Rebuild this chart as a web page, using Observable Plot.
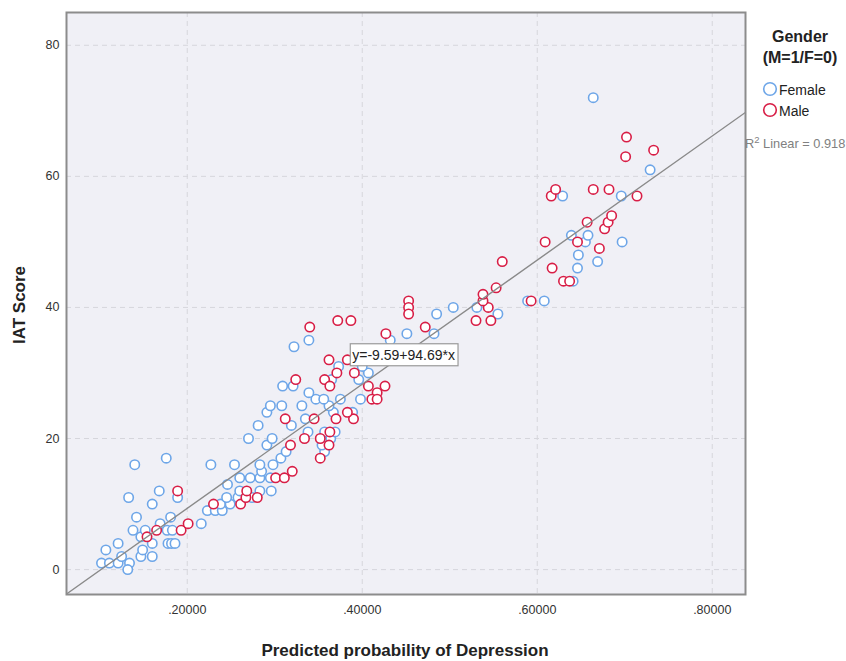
<!DOCTYPE html>
<html><head><meta charset="utf-8">
<script src="https://cdn.jsdelivr.net/npm/d3@7"></script>
<script src="https://cdn.jsdelivr.net/npm/@observablehq/plot@0.6"></script>
<style>
body{margin:0;background:#fff;}
#chart{width:846px;height:661px;overflow:hidden;}
svg{font-family:Arial,"Liberation Sans",sans-serif;}
</style></head><body><div id="chart"></div>
<script>
// Female (0) — predicted probability, IAT score
const femaleX = [0.102,0.111,0.121,0.134,0.132,0.107,0.125,0.121,0.147,0.160,0.149,0.160,0.178,0.182,0.186,0.147,0.138,0.152,0.177,0.183,0.169,0.142,0.181,0.160,0.133,0.168,0.189,0.140,0.176,0.227,0.216,0.223,0.232,0.240,0.238,0.249,0.245,0.258,0.274,0.260,0.283,0.296,0.246,0.260,0.272,0.283,0.295,0.285,0.254,0.283,0.298,0.307,0.313,0.357,0.291,0.354,0.270,0.297,0.364,0.338,0.357,0.369,0.281,0.319,0.335,0.291,0.367,0.389,0.295,0.308,0.331,0.362,0.347,0.356,0.375,0.398,0.339,0.309,0.321,0.365,0.396,0.407,0.373,0.400,0.322,0.339,0.432,0.451,0.482,0.485,0.555,0.504,0.531,0.589,0.608,0.641,0.646,0.669,0.647,0.655,0.697,0.639,0.658,0.629,0.696,0.729,0.664];
const femaleY = [1,1,1,1,0,3,2,4,2,2,3,4,4,4,4,5,6,6,6,6,7,8,8,10,11,12,11,16,17,16,7,9,9,9,10,10,11,11,11,12,12,12,13,14,14,14,14,15,16,16,16,17,18,18,19,19,20,20,20,21,21,21,22,22,23,24,24,24,25,25,25,25,26,26,26,26,27,28,28,29,29,30,31,31,34,35,35,36,36,39,39,40,40,41,41,44,46,47,48,50,50,51,51,57,57,61,72];
// Male (1)
const maleX = [0.154,0.165,0.193,0.201,0.189,0.230,0.261,0.267,0.268,0.280,0.301,0.311,0.320,0.318,0.312,0.334,0.345,0.352,0.370,0.390,0.363,0.362,0.352,0.383,0.324,0.357,0.363,0.362,0.383,0.371,0.391,0.407,0.417,0.426,0.411,0.417,0.340,0.372,0.387,0.427,0.453,0.453,0.453,0.472,0.530,0.547,0.544,0.538,0.538,0.553,0.593,0.560,0.617,0.630,0.637,0.609,0.646,0.671,0.677,0.657,0.681,0.685,0.616,0.621,0.664,0.682,0.714,0.701,0.702,0.733];
const maleY = [5,6,6,7,12,10,10,11,12,11,14,14,15,19,23,20,23,20,23,23,21,19,17,24,29,29,28,32,32,30,30,28,27,28,26,26,37,38,38,36,41,40,39,37,38,38,40,41,42,43,41,47,46,44,44,50,50,49,52,53,53,54,57,58,58,58,57,63,66,64];

const yTicks = [0,20,40,60,80];
const xTicks = [0.2,0.4,0.6,0.8];
const xTickLabels = [".20000",".40000",".60000",".80000"];
const fitIntercept = -9.59, fitSlope = 94.69, rSquared = 0.918;
const fitLabel = "y=-9.59+94.69*x";
const fitLabelAt = {x: 0.3886, y: 32.7};
const xDomain = [0.062, 0.838], yDomain = [-3.8, 85];
const groups = ["Female","Male"];
const colors = ["#6ea6e8","#d81e46"];

const female = femaleX.map((x,i)=>({x, y: femaleY[i]}));
const male = maleX.map((x,i)=>({x, y: maleY[i]}));
const fitLine = xDomain.map(x => ({x, y: fitIntercept + fitSlope*x}));

const plot = Plot.plot({
  width: 846, height: 661,
  marginLeft: 66, marginRight: 101, marginTop: 12, marginBottom: 67,
  x: {domain: xDomain}, y: {domain: yDomain},
  style: {fontFamily: 'Arial,"Liberation Sans",sans-serif', fontSize: "12px", color: "#333", background: "#fff"},
  marks: [
    Plot.frame({fill: "#f0f0f6", stroke: null}),
    Plot.gridY(yTicks, {stroke: "#d6d6dc", strokeOpacity: 1, strokeDasharray: "5,4"}),
    Plot.gridX(xTicks, {stroke: "#d6d6dc", strokeOpacity: 1, strokeDasharray: "5,4"}),
    Plot.axisY(yTicks, {tickSize: 0, tickPadding: 7, fontSize: 12.5, label: null, fill: "#333"}),
    Plot.axisX(xTicks, {tickSize: 0, tickPadding: 11, fontSize: 12.5, label: null, fill: "#333",
      tickFormat: d => xTickLabels[xTicks.indexOf(d)]}),
    Plot.dot(female, {x: "x", y: "y", r: 4.7, stroke: colors[0], strokeWidth: 1.6, fill: "#fff"}),
    Plot.dot(male, {x: "x", y: "y", r: 4.7, stroke: colors[1], strokeWidth: 1.6, fill: "#fff"}),
    Plot.line(fitLine, {x: "x", y: "y", stroke: "#8a8a8a", strokeWidth: 1.4, clip: true}),
    Plot.text([fitLabelAt], {x: "x", y: "y", text: () => fitLabel, textAnchor: "start", fontSize: 14, fill: "#222", className: "fitlabel"}),
    Plot.frame({stroke: "#8c8c8c", strokeWidth: 2})
  ]
});
document.getElementById("chart").appendChild(plot);

const svg = d3.select(plot);
// box behind the fit label (same transform as the text)
const lbl = svg.select(".fitlabel text").node();
if (lbl) {
  const b = lbl.getBBox();
  d3.select(lbl.parentNode).insert("rect", "text")
    .attr("transform", lbl.getAttribute("transform"))
    .attr("x", b.x - 2).attr("y", b.y - 3).attr("width", b.width + 5).attr("height", b.height + 6)
    .attr("fill", "#fff").attr("stroke", "#9a9a9a").attr("stroke-width", 1.2);
}
const T = (x, y, s, opts = {}) => svg.append("text").attr("x", x).attr("y", y)
  .attr("text-anchor", opts.anchor || "start").attr("font-size", opts.size || 12)
  .attr("font-weight", opts.weight || "normal").attr("fill", opts.fill || "#222").text(s);
// axis titles
T(405, 656, "Predicted probability of Depression", {anchor: "middle", size: 17, weight: "bold"});
svg.append("text").attr("transform", "translate(25,305) rotate(-90)").attr("text-anchor", "middle")
  .attr("font-size", 17).attr("font-weight", "bold").attr("fill", "#222").text("IAT Score");
// legend
T(800, 42, "Gender", {anchor: "middle", size: 16, weight: "bold"});
T(800, 63, "(M=1/F=0)", {anchor: "middle", size: 16, weight: "bold"});
groups.forEach((g, i) => {
  const cy = 89 + i * 21;
  svg.append("circle").attr("cx", 770).attr("cy", cy).attr("r", 6.3)
    .attr("fill", "#fff").attr("stroke", colors[i]).attr("stroke-width", 1.6);
  T(779, cy + 5.5, g, {size: 14});
});
const r2 = svg.append("text").attr("x", 745).attr("y", 148).attr("text-anchor", "start")
  .attr("font-size", 12.8).attr("fill", "#808080");
r2.append("tspan").text("R");
r2.append("tspan").attr("font-size", 9.5).attr("dy", -5).text("2");
r2.append("tspan").attr("dy", 5).text(" Linear = " + rSquared.toFixed(3));
</script></body></html>
